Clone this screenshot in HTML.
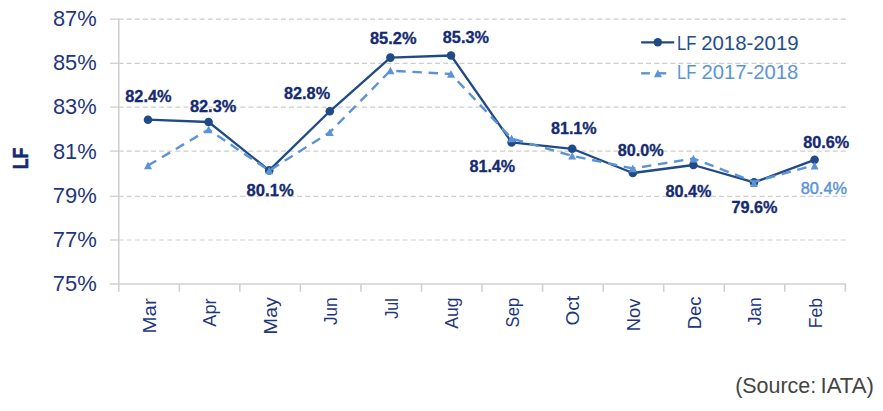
<!DOCTYPE html>
<html><head><meta charset="utf-8"><title>LF chart</title>
<style>html,body{margin:0;padding:0;background:#fff;}body{width:883px;height:411px;overflow:hidden;font-family:"Liberation Sans",sans-serif;}</style>
</head><body>
<svg width="883" height="411" viewBox="0 0 883 411" style="display:block" font-family="'Liberation Sans', sans-serif">
<rect width="883" height="411" fill="#fff"/>
<line x1="118.75" x2="846.4" y1="240.00" y2="240.00" stroke="#CDCDCD" stroke-width="1.2" stroke-dasharray="5 3.115" stroke-dashoffset="0.2"/>
<line x1="110" x2="118.75" y1="240.00" y2="240.00" stroke="#D0D0D0" stroke-width="1.3"/>
<line x1="118.75" x2="846.4" y1="196.30" y2="196.30" stroke="#CDCDCD" stroke-width="1.2" stroke-dasharray="5 3.115" stroke-dashoffset="0.2"/>
<line x1="110" x2="118.75" y1="196.30" y2="196.30" stroke="#D0D0D0" stroke-width="1.3"/>
<line x1="118.75" x2="846.4" y1="151.10" y2="151.10" stroke="#CDCDCD" stroke-width="1.2" stroke-dasharray="5 3.115" stroke-dashoffset="0.2"/>
<line x1="110" x2="118.75" y1="151.10" y2="151.10" stroke="#D0D0D0" stroke-width="1.3"/>
<line x1="118.75" x2="846.4" y1="107.10" y2="107.10" stroke="#CDCDCD" stroke-width="1.2" stroke-dasharray="5 3.115" stroke-dashoffset="0.2"/>
<line x1="110" x2="118.75" y1="107.10" y2="107.10" stroke="#D0D0D0" stroke-width="1.3"/>
<line x1="118.75" x2="846.4" y1="63.30" y2="63.30" stroke="#CDCDCD" stroke-width="1.2" stroke-dasharray="5 3.115" stroke-dashoffset="0.2"/>
<line x1="110" x2="118.75" y1="63.30" y2="63.30" stroke="#D0D0D0" stroke-width="1.3"/>
<line x1="118.75" x2="846.4" y1="19.20" y2="19.20" stroke="#CDCDCD" stroke-width="1.2" stroke-dasharray="5 3.115" stroke-dashoffset="0.2"/>
<line x1="110" x2="118.75" y1="19.20" y2="19.20" stroke="#D0D0D0" stroke-width="1.3"/>
<line x1="118.75" x2="118.75" y1="18.60" y2="291.7" stroke="#D0D0D0" stroke-width="1.6"/>
<line x1="110" x2="846.15" y1="284.0" y2="284.0" stroke="#D0D0D0" stroke-width="1.6"/>
<line x1="179.30" x2="179.30" y1="284.0" y2="291.7" stroke="#D0D0D0" stroke-width="1.6"/>
<line x1="239.85" x2="239.85" y1="284.0" y2="291.7" stroke="#D0D0D0" stroke-width="1.6"/>
<line x1="300.40" x2="300.40" y1="284.0" y2="291.7" stroke="#D0D0D0" stroke-width="1.6"/>
<line x1="360.95" x2="360.95" y1="284.0" y2="291.7" stroke="#D0D0D0" stroke-width="1.6"/>
<line x1="421.50" x2="421.50" y1="284.0" y2="291.7" stroke="#D0D0D0" stroke-width="1.6"/>
<line x1="482.05" x2="482.05" y1="284.0" y2="291.7" stroke="#D0D0D0" stroke-width="1.6"/>
<line x1="542.60" x2="542.60" y1="284.0" y2="291.7" stroke="#D0D0D0" stroke-width="1.6"/>
<line x1="603.15" x2="603.15" y1="284.0" y2="291.7" stroke="#D0D0D0" stroke-width="1.6"/>
<line x1="663.70" x2="663.70" y1="284.0" y2="291.7" stroke="#D0D0D0" stroke-width="1.6"/>
<line x1="724.25" x2="724.25" y1="284.0" y2="291.7" stroke="#D0D0D0" stroke-width="1.6"/>
<line x1="784.80" x2="784.80" y1="284.0" y2="291.7" stroke="#D0D0D0" stroke-width="1.6"/>
<line x1="845.35" x2="845.35" y1="284.0" y2="291.7" stroke="#D0D0D0" stroke-width="1.6"/>
<text transform="translate(52.68,291.45) scale(0.9734,1)" font-size="22.6" font-weight="normal" fill="#1E367B">75%</text>
<text transform="translate(52.68,247.35) scale(0.9734,1)" font-size="22.6" font-weight="normal" fill="#1E367B">77%</text>
<text transform="translate(52.68,202.75) scale(0.9734,1)" font-size="22.6" font-weight="normal" fill="#1E367B">79%</text>
<text transform="translate(52.93,158.75) scale(0.9678,1)" font-size="22.6" font-weight="normal" fill="#1E367B">81%</text>
<text transform="translate(52.93,114.45) scale(0.9678,1)" font-size="22.6" font-weight="normal" fill="#1E367B">83%</text>
<text transform="translate(52.93,70.15) scale(0.9678,1)" font-size="22.6" font-weight="normal" fill="#1E367B">85%</text>
<text transform="translate(52.93,25.55) scale(0.9678,1)" font-size="22.6" font-weight="normal" fill="#1E367B">87%</text>
<text transform="translate(28.00,169.31) rotate(-90) scale(0.8082,1)" font-size="22.0" font-weight="bold" fill="#142A72" stroke="#142A72" stroke-width="0.5">LF</text>
<text transform="translate(155.62,333.50) rotate(-90) scale(1.1350,1)" font-size="18.0" font-weight="normal" fill="#1E367B">Mar</text>
<text transform="translate(216.17,326.70) rotate(-90) scale(1.0126,1)" font-size="18.0" font-weight="normal" fill="#1E367B">Apr</text>
<text transform="translate(276.73,334.45) rotate(-90) scale(1.0985,1)" font-size="18.0" font-weight="normal" fill="#1E367B">May</text>
<text transform="translate(337.27,324.94) rotate(-90) scale(0.9491,1)" font-size="18.0" font-weight="normal" fill="#1E367B">Jun</text>
<text transform="translate(397.82,318.72) rotate(-90) scale(0.8977,1)" font-size="18.0" font-weight="normal" fill="#1E367B">Jul</text>
<text transform="translate(458.38,328.70) rotate(-90) scale(0.9789,1)" font-size="18.0" font-weight="normal" fill="#1E367B">Aug</text>
<text transform="translate(518.93,327.39) rotate(-90) scale(0.9213,1)" font-size="18.0" font-weight="normal" fill="#1E367B">Sep</text>
<text transform="translate(579.48,325.49) rotate(-90) scale(1.0593,1)" font-size="18.0" font-weight="normal" fill="#1E367B">Oct</text>
<text transform="translate(640.02,331.23) rotate(-90) scale(1.0197,1)" font-size="18.0" font-weight="normal" fill="#1E367B">Nov</text>
<text transform="translate(700.58,329.23) rotate(-90) scale(1.0200,1)" font-size="18.0" font-weight="normal" fill="#1E367B">Dec</text>
<text transform="translate(761.12,325.34) rotate(-90) scale(0.9636,1)" font-size="18.0" font-weight="normal" fill="#1E367B">Jan</text>
<text transform="translate(821.67,328.17) rotate(-90) scale(0.9774,1)" font-size="18.0" font-weight="normal" fill="#1E367B">Feb</text>
<polyline points="148.00,119.70 208.60,122.00 269.20,170.40 329.80,111.30 390.40,57.60 451.00,55.50 511.60,142.40 572.20,148.80 632.80,173.00 693.40,165.00 754.00,182.40 814.60,159.80" fill="none" stroke="#1F4A87" stroke-width="2.3" stroke-linejoin="round"/>
<circle cx="148.00" cy="119.70" r="4.3" fill="#1F4A87"/>
<circle cx="208.60" cy="122.00" r="4.3" fill="#1F4A87"/>
<circle cx="269.20" cy="170.40" r="4.3" fill="#1F4A87"/>
<circle cx="329.80" cy="111.30" r="4.3" fill="#1F4A87"/>
<circle cx="390.40" cy="57.60" r="4.3" fill="#1F4A87"/>
<circle cx="451.00" cy="55.50" r="4.3" fill="#1F4A87"/>
<circle cx="511.60" cy="142.40" r="4.3" fill="#1F4A87"/>
<circle cx="572.20" cy="148.80" r="4.3" fill="#1F4A87"/>
<circle cx="632.80" cy="173.00" r="4.3" fill="#1F4A87"/>
<circle cx="693.40" cy="165.00" r="4.3" fill="#1F4A87"/>
<circle cx="754.00" cy="182.40" r="4.3" fill="#1F4A87"/>
<circle cx="814.60" cy="159.80" r="4.3" fill="#1F4A87"/>
<line x1="148.00" y1="165.50" x2="208.60" y2="129.60" stroke="#5B94D6" stroke-width="2.4" stroke-dasharray="9.5 6.69" stroke-dashoffset="0.00"/>
<line x1="208.60" y1="129.60" x2="269.20" y2="170.60" stroke="#5B94D6" stroke-width="2.4" stroke-dasharray="9.5 6.69" stroke-dashoffset="5.68"/>
<line x1="269.20" y1="170.60" x2="329.80" y2="132.30" stroke="#5B94D6" stroke-width="2.4" stroke-dasharray="9.5 6.69" stroke-dashoffset="14.08"/>
<line x1="329.80" y1="132.30" x2="390.40" y2="70.60" stroke="#5B94D6" stroke-width="2.4" stroke-dasharray="9.5 6.69" stroke-dashoffset="4.82"/>
<line x1="390.40" y1="70.60" x2="451.00" y2="74.00" stroke="#5B94D6" stroke-width="2.4" stroke-dasharray="9.5 6.69" stroke-dashoffset="10.35"/>
<line x1="451.00" y1="74.00" x2="511.60" y2="138.50" stroke="#5B94D6" stroke-width="2.4" stroke-dasharray="9.5 6.69" stroke-dashoffset="6.29"/>
<line x1="511.60" y1="138.50" x2="572.20" y2="155.80" stroke="#5B94D6" stroke-width="2.4" stroke-dasharray="9.5 6.69" stroke-dashoffset="13.84"/>
<line x1="572.20" y1="155.80" x2="632.80" y2="168.50" stroke="#5B94D6" stroke-width="2.4" stroke-dasharray="9.5 6.69" stroke-dashoffset="12.10"/>
<line x1="632.80" y1="168.50" x2="693.40" y2="158.50" stroke="#5B94D6" stroke-width="2.4" stroke-dasharray="9.5 6.69" stroke-dashoffset="6.86"/>
<line x1="693.40" y1="158.50" x2="754.00" y2="181.80" stroke="#5B94D6" stroke-width="2.4" stroke-dasharray="9.5 6.69" stroke-dashoffset="4.12"/>
<line x1="754.00" y1="181.80" x2="814.60" y2="165.20" stroke="#5B94D6" stroke-width="2.4" stroke-dasharray="9.5 6.69" stroke-dashoffset="3.68"/>
<polygon points="148.00,161.60 152.00,169.20 144.00,169.20" fill="#5B94D6"/>
<polygon points="208.60,125.70 212.60,133.30 204.60,133.30" fill="#5B94D6"/>
<polygon points="269.20,166.70 273.20,174.30 265.20,174.30" fill="#5B94D6"/>
<polygon points="329.80,128.40 333.80,136.00 325.80,136.00" fill="#5B94D6"/>
<polygon points="390.40,66.70 394.40,74.30 386.40,74.30" fill="#5B94D6"/>
<polygon points="451.00,70.10 455.00,77.70 447.00,77.70" fill="#5B94D6"/>
<polygon points="511.60,134.60 515.60,142.20 507.60,142.20" fill="#5B94D6"/>
<polygon points="572.20,151.90 576.20,159.50 568.20,159.50" fill="#5B94D6"/>
<polygon points="632.80,164.60 636.80,172.20 628.80,172.20" fill="#5B94D6"/>
<polygon points="693.40,154.80 697.40,162.40 689.40,162.40" fill="#5B94D6"/>
<polygon points="754.00,179.40 758.00,187.00 750.00,187.00" fill="#5B94D6"/>
<polygon points="814.60,161.80 818.60,169.40 810.60,169.40" fill="#5B94D6"/>
<text transform="translate(125.28,102.20) scale(1.0331,1)" font-size="15.8" font-weight="bold" fill="#142A72" stroke="#142A72" stroke-width="0.3">82.4%</text>
<text transform="translate(189.88,111.90) scale(1.0377,1)" font-size="15.8" font-weight="bold" fill="#142A72" stroke="#142A72" stroke-width="0.3">82.3%</text>
<text transform="translate(246.57,195.70) scale(1.0537,1)" font-size="15.8" font-weight="bold" fill="#142A72" stroke="#142A72" stroke-width="0.3">80.1%</text>
<text transform="translate(283.98,98.80) scale(1.0309,1)" font-size="15.8" font-weight="bold" fill="#142A72" stroke="#142A72" stroke-width="0.3">82.8%</text>
<text transform="translate(369.98,43.50) scale(1.0377,1)" font-size="15.8" font-weight="bold" fill="#142A72" stroke="#142A72" stroke-width="0.3">85.2%</text>
<text transform="translate(442.78,43.00) scale(1.0309,1)" font-size="15.8" font-weight="bold" fill="#142A72" stroke="#142A72" stroke-width="0.3">85.3%</text>
<text transform="translate(469.39,171.50) scale(1.0240,1)" font-size="15.8" font-weight="bold" fill="#142A72" stroke="#142A72" stroke-width="0.3">81.4%</text>
<text transform="translate(550.89,134.40) scale(1.0240,1)" font-size="15.8" font-weight="bold" fill="#142A72" stroke="#142A72" stroke-width="0.3">81.1%</text>
<text transform="translate(617.69,156.40) scale(1.0240,1)" font-size="15.8" font-weight="bold" fill="#142A72" stroke="#142A72" stroke-width="0.3">80.0%</text>
<text transform="translate(665.49,196.80) scale(1.0286,1)" font-size="15.8" font-weight="bold" fill="#142A72" stroke="#142A72" stroke-width="0.3">80.4%</text>
<text transform="translate(731.43,213.30) scale(1.0299,1)" font-size="15.8" font-weight="bold" fill="#142A72" stroke="#142A72" stroke-width="0.3">79.6%</text>
<text transform="translate(803.18,147.80) scale(1.0309,1)" font-size="15.8" font-weight="bold" fill="#142A72" stroke="#142A72" stroke-width="0.3">80.6%</text>
<text transform="translate(800.73,194.30) scale(1.0322,1)" font-size="15.8" font-weight="normal" fill="#5B94D6" stroke="#5B94D6" stroke-width="0.45">80.4%</text>
<line x1="641.1" x2="674.2" y1="42.3" y2="42.3" stroke="#1F4A87" stroke-width="2.15"/>
<circle cx="657.8" cy="42.3" r="4.3" fill="#1F4A87"/>
<text transform="translate(676.88,49.60) scale(0.8093,1)" font-size="20.6" font-weight="normal" fill="#234E8C">LF</text>
<text transform="translate(701.21,49.60) scale(0.9886,1)" font-size="20.6" font-weight="normal" fill="#234E8C">2018-2019</text>
<line x1="641.1" x2="649.9" y1="73.3" y2="73.3" stroke="#5B94D6" stroke-width="2.4"/>
<line x1="659" x2="666.2" y1="73.3" y2="73.3" stroke="#5B94D6" stroke-width="2.4"/>
<polygon points="657.9,69.5 661.9,77.3 653.9,77.3" fill="#5B94D6"/>
<text transform="translate(676.88,79.00) scale(0.8093,1)" font-size="20.6" font-weight="normal" fill="#5B94D6">LF</text>
<text transform="translate(701.52,79.00) scale(0.9834,1)" font-size="20.6" font-weight="normal" fill="#5B94D6">2017-2018</text>
<text transform="translate(735.16,392.70) scale(0.9936,1)" font-size="21.6" font-weight="normal" fill="#444444">(Source:</text>
<text transform="translate(820.54,392.70) scale(1.0277,1)" font-size="21.6" font-weight="normal" fill="#444444">IATA)</text>
</svg>
</body></html>
